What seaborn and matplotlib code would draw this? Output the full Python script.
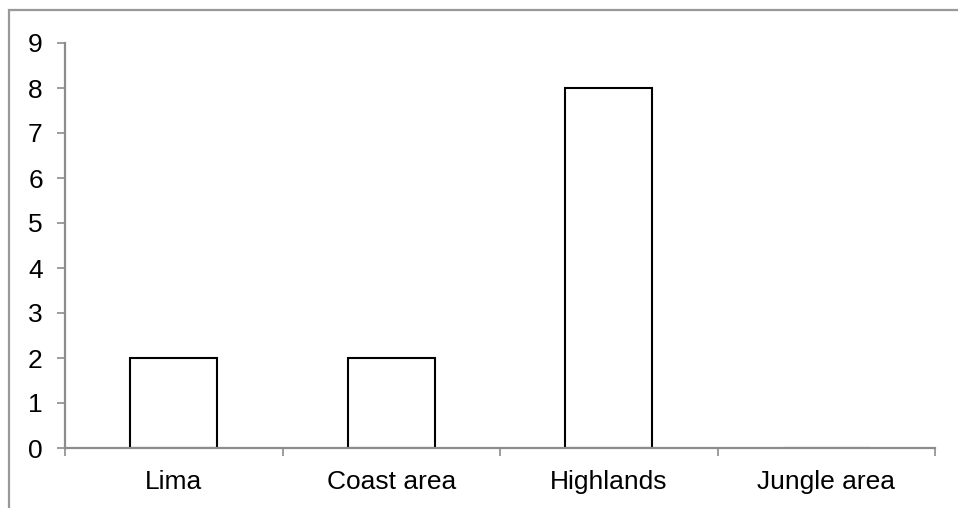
import matplotlib
matplotlib.use("Agg")
import matplotlib.pyplot as plt
import seaborn as sns
import pandas as pd
from matplotlib.patches import Rectangle
from matplotlib.ticker import FixedLocator

categories = ["Lima", "Coast area", "Highlands", "Jungle area"]
values = [2, 2, 8, 0]
y_ticks = [0, 1, 2, 3, 4, 5, 6, 7, 8, 9]

sns.set_theme(style="white")
plt.rcParams["font.family"] = ["Liberation Sans", "DejaVu Sans"]

df = pd.DataFrame({"region": categories, "count": values})

fig = plt.figure(figsize=(9.58, 5.08), dpi=100)
ax = fig.add_axes([65 / 958, 1 - 448 / 508, 870 / 958, 405 / 508])

sns.barplot(data=df, x="region", y="count", order=categories, color="white",
            edgecolor="black", linewidth=1.5, width=0.4, ax=ax, saturation=1)

ax.set_xlim(-0.5, len(categories) - 0.5)
ax.set_ylim(0, 9)
ax.set_yticks(y_ticks)
ax.set_xlabel("")
ax.set_ylabel("")

for s in ["top", "right"]:
    ax.spines[s].set_visible(False)
for s in ["left", "bottom"]:
    ax.spines[s].set_color("#8c8c8c")
    ax.spines[s].set_linewidth(1.6)
    ax.spines[s].set_zorder(5)

ax.tick_params(axis="y", which="major", direction="out", length=6, width=1.2,
               color="#8c8c8c", left=True, labelsize=19, labelcolor="black", pad=10)
ax.tick_params(axis="x", which="major", length=0, labelsize=19,
               labelcolor="black", pad=16)
ax.xaxis.set_minor_locator(FixedLocator([i - 0.5 for i in range(len(categories) + 1)]))
ax.tick_params(axis="x", which="minor", direction="out", length=5.5, width=1.2,
               color="#8c8c8c", bottom=True)

frame = Rectangle((9 / 958, -0.5), 2.0, 0.5 + (508 - 9.5) / 508,
                  transform=fig.transFigure, fill=False, edgecolor="#999999",
                  linewidth=1.6)
fig.patches.append(frame)

fig.savefig("out.png", dpi=100)
